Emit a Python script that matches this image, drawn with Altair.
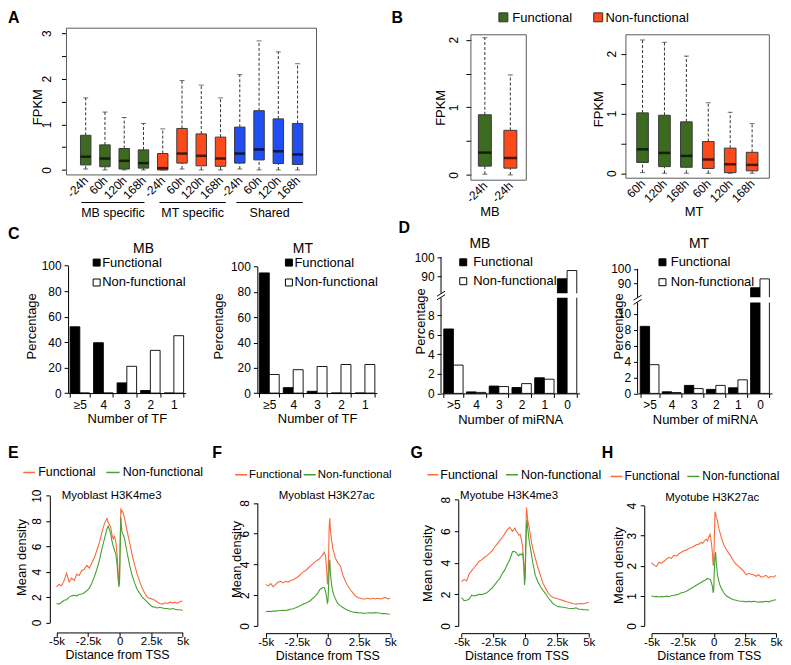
import altair as alt
import pandas as pd

FONT = "Liberation Sans"
GREEN = "#3c6a1f"
ORANGE = "#fc4a1a"
BLUE = "#1f4ff2"
LINE_OR = "#fa6a3c"
LINE_GR = "#47a031"
FRAME = "#5a5a5a"

# ---------------- Panel A (FPKM box plots)
A_GROUPS = ["MB specific", "MT specific", "Shared"]
A_TIMES = ["-24h", "60h", "120h", "168h"]
A_Q1 = [0.11, 0.07, 0.02, 0.04, 0.00, 0.15, 0.09, 0.08, 0.15, 0.22, 0.14, 0.12]
A_MED = [0.29, 0.25, 0.20, 0.15, 0.04, 0.36, 0.31, 0.25, 0.36, 0.45, 0.41, 0.34]
A_Q3 = [0.76, 0.55, 0.47, 0.44, 0.36, 0.91, 0.79, 0.72, 0.94, 1.30, 1.12, 1.02]
A_LO = [0.02, 0.0, 0.0, 0.0, 0.0, 0.02, 0.0, 0.0, 0.02, 0.0, 0.0, 0.0]
A_HI = [1.58, 1.27, 1.15, 1.02, 0.90, 1.96, 1.86, 1.58, 2.09, 2.83, 2.59, 2.33]
GROUP_COLORS = [GREEN, ORANGE, BLUE]

# ---------------- Panel B
B_TYPES = ["Functional", "Non-functional"]
B1_TIMES = ["-24h", "-24h"]
B1_Q1 = [0.13, 0.10]
B1_MED = [0.33, 0.25]
B1_Q3 = [0.89, 0.66]
B1_LO = [0.01, 0.0]
B1_HI = [2.03, 1.48]
B2_TIMES = ["60h", "120h", "168h", "60h", "120h", "168h"]
B2_Q1 = [0.18, 0.11, 0.10, 0.08, 0.01, 0.04]
B2_MED = [0.40, 0.34, 0.29, 0.23, 0.15, 0.14]
B2_Q3 = [1.01, 0.97, 0.86, 0.53, 0.42, 0.35]
B2_LO = [0.01, 0.0, 0.0, 0.0, 0.0, 0.0]
B2_HI = [2.23, 2.19, 1.96, 1.18, 1.02, 0.83]

# ---------------- Panel C (TF)
TF_CATS = ["\u22655", "4", "3", "2", "1"]
C_MB_FUNC = [52, 39.5, 8, 2, 0]
C_MB_NON = [0, 0, 21, 33.5, 45]
C_MT_FUNC = [95, 4.3, 1.4, 0, 0]
C_MT_NON = [14.7, 18.5, 21, 22.6, 22.6]

# ---------------- Panel D (miRNA)
MI_CATS = [">5", "4", "3", "2", "1", "0"]
D_MB_FUNC = [6.6, 0.15, 0.75, 0.6, 1.6, 88.8]
D_MB_NON = [2.9, 0.1, 0.7, 1.0, 1.45, 93.1]
D_MT_FUNC = [8.4, 0.2, 1.0, 0.5, 0.7, 86.8]
D_MT_NON = [3.6, 0.1, 0.6, 1.0, 1.7, 93.0]

# ---------------- Panels E-H (density profiles)
TSS_X = [-5000, -4800, -4600, -4400, -4200, -4000, -3800, -3600, -3400, -3200, -3000,
         -2800, -2600, -2400, -2200, -2000, -1800, -1600, -1400, -1200, -1000, -900,
         -800, -700, -600, -500, -400, -300, -200, -100, -50, 0, 50, 100, 150, 200,
         300, 400, 500, 600, 800, 1000, 1200, 1400, 1600, 1800, 2000, 2200, 2400,
         2600, 2800, 3000, 3200, 3400, 3600, 3800, 4000, 4200, 4400, 4600, 4800, 5000]
E_FUNC = [2.8, 3.0, 2.9, 3.3, 3.9, 3.2, 3.5, 3.3, 3.8, 3.7, 4.1, 4.2, 4.5, 4.3, 4.7, 5.1,
          5.7, 6.3, 7.1, 7.8, 8.2, 7.9, 7.7, 7.5, 6.9, 6.6, 6.8, 6.4, 5.4, 3.8, 3.0, 3.6,
          6.5, 9.0, 8.7, 8.8, 8.6, 8.2, 7.7, 7.2, 6.3, 5.3, 4.5, 3.8, 3.2, 2.7, 2.3, 2.0,
          1.9, 1.85, 1.75, 1.6, 1.5, 1.45, 1.55, 1.5, 1.6, 1.55, 1.6, 1.5, 1.65, 1.7]
E_NON = [1.5, 1.45, 1.6, 1.75, 1.8, 2.0, 2.1, 2.15, 2.1, 2.2, 2.25, 2.35, 2.5, 2.7, 3.1,
         3.6, 4.2, 4.9, 5.8, 6.6, 7.4, 7.6, 7.3, 7.0, 6.4, 6.0, 5.7, 5.4, 4.6, 3.3, 2.8,
         3.2, 6.0, 8.3, 7.5, 7.1, 6.9, 6.6, 6.0, 5.5, 4.5, 3.7, 3.1, 2.6, 2.3, 2.0, 1.8,
         1.6, 1.4, 1.25, 1.2, 1.15, 1.2, 1.15, 1.1, 1.1, 1.05, 1.1, 1.05, 1.0, 1.0, 0.95]
F_FUNC = [2.7, 2.6, 2.75, 2.55, 2.7, 2.85, 2.9, 2.8, 2.9, 2.85, 2.95, 3.0, 3.1, 3.2, 3.35,
          3.5, 3.6, 3.75, 3.9, 4.05, 4.2, 4.25, 4.3, 4.35, 4.45, 4.55, 4.65, 4.8, 4.6, 3.6,
          2.8, 2.7, 4.5, 6.5, 7.0, 6.2, 5.5, 5.0, 4.7, 4.4, 4.1, 3.9, 3.3, 2.9, 2.6, 2.35,
          2.15, 1.95, 1.85, 1.8, 1.75, 1.75, 1.8, 1.75, 1.8, 1.75, 1.8, 1.75, 1.8, 1.85,
          1.75, 1.8]
F_NON = [0.92, 0.95, 0.93, 0.97, 0.96, 0.98, 1.0, 1.02, 1.0, 1.04, 1.08, 1.12, 1.18, 1.25,
         1.32, 1.4, 1.48, 1.56, 1.65, 1.8, 1.95, 2.05, 2.15, 2.3, 2.4, 2.45, 2.5, 2.5, 2.3,
         1.8, 1.5, 1.6, 2.6, 4.0, 4.3, 3.4, 2.6, 2.2, 1.95, 1.75, 1.45, 1.3, 1.2, 1.1, 1.02,
         0.95, 0.9, 0.88, 0.86, 0.85, 0.83, 0.82, 0.84, 0.85, 0.83, 0.86, 0.85, 0.82, 0.8,
         0.8, 0.77, 0.76]
G_FUNC = [2.8, 2.95, 2.85, 3.3, 3.5, 3.7, 3.9, 4.1, 4.2, 4.35, 4.45, 4.6, 4.75, 5.0, 5.2,
          5.4, 5.6, 5.85, 6.1, 6.25, 6.0, 6.1, 6.2, 6.0, 5.9, 5.75, 5.8, 5.5, 5.0, 3.9, 3.1,
          3.3, 5.5, 7.5, 7.2, 6.7, 6.3, 5.8, 5.3, 4.9, 4.3, 3.7, 3.2, 2.7, 2.4, 2.1, 1.9,
          1.8, 1.75, 1.7, 1.65, 1.6, 1.55, 1.5, 1.45, 1.4, 1.38, 1.4, 1.42, 1.4, 1.45, 1.5]
G_NON = [1.8, 1.6, 1.62, 1.7, 1.95, 1.9, 1.95, 2.0, 1.98, 2.05, 2.1, 2.25, 2.4, 2.6, 2.8,
         3.0, 3.3, 3.55, 3.9, 4.2, 4.7, 4.72, 4.7, 4.65, 4.5, 4.45, 4.55, 4.5, 4.6, 3.8, 2.6,
         3.0, 4.8, 6.3, 6.7, 6.2, 5.5, 5.0, 4.5, 4.0, 3.2, 2.8, 2.5, 2.25, 2.05, 1.8, 1.6,
         1.4, 1.3, 1.22, 1.2, 1.18, 1.15, 1.12, 1.1, 1.1, 1.15, 1.05, 1.05, 1.03, 1.02, 1.0]
H_FUNC = [2.1, 2.02, 1.98, 2.12, 2.08, 2.15, 2.22, 2.28, 2.25, 2.35, 2.32, 2.4, 2.45, 2.5,
          2.52, 2.58, 2.6, 2.65, 2.7, 2.72, 2.78, 2.74, 2.8, 2.85, 2.88, 2.82, 2.95, 3.05,
          2.8, 2.4, 2.0, 2.1, 3.0, 3.8, 3.75, 3.6, 3.5, 3.25, 3.1, 2.95, 2.7, 2.55, 2.42,
          2.3, 2.15, 2.05, 1.98, 1.9, 1.82, 1.7, 1.75, 1.72, 1.7, 1.65, 1.7, 1.62, 1.64,
          1.68, 1.6, 1.65, 1.62, 1.68]
H_NON = [1.0, 0.97, 0.98, 0.96, 0.98, 0.97, 0.99, 0.98, 1.0, 1.02, 1.03, 1.06, 1.1, 1.12,
         1.15, 1.2, 1.25, 1.3, 1.35, 1.4, 1.45, 1.48, 1.5, 1.52, 1.55, 1.58, 1.56, 1.55,
         1.45, 1.3, 1.1, 1.2, 1.9, 2.35, 2.45, 2.1, 1.7, 1.5, 1.35, 1.25, 1.1, 1.0, 0.95,
         0.9, 0.87, 0.85, 0.83, 0.82, 0.82, 0.8, 0.82, 0.8, 0.82, 0.8, 0.79, 0.8, 0.8, 0.82,
         0.8, 0.83, 0.85, 0.87]

# global plot area (absolute page pixels)
OX, OY = 40.0, 26.7
W, H = 743, 600
BOTTOM = OY + H
ONE = pd.DataFrame({"a": [0]})


def rx(x):
    return x - OX


def ry(y):
    return y - OY


def T(t, x, y, size=12, align="center", baseline="middle", weight="normal", angle=0):
    return alt.Chart(pd.DataFrame({"t": [t]})).mark_text(
        align=align, baseline=baseline, fontSize=size, fontWeight=weight, angle=angle,
        font=FONT, color="black").encode(x=alt.value(rx(x)), y=alt.value(ry(y)), text="t:N")


def VT(t, x, y, size=13):
    return T(t, x, y, size=size, angle=270)


def S(x1, y1, x2, y2, color="black", width=1.0):
    return alt.Chart(ONE).mark_rule(color=color, strokeWidth=width).encode(
        x=alt.value(rx(x1)), y=alt.value(ry(y1)), x2=alt.value(rx(x2)), y2=alt.value(ry(y2)))


def Q(x, y, side, fill, stroke):
    return alt.Chart(ONE).mark_point(shape="square", filled=True, fill=fill, stroke=stroke,
                                     strokeWidth=1, size=side * side, opacity=1).encode(
        x=alt.value(rx(x)), y=alt.value(ry(y)))


def FR(x1, x2, y1, y2):
    return alt.Chart(ONE).mark_rect(fill="transparent", stroke=FRAME, strokeWidth=1).encode(
        x=alt.value(rx(x1)), x2=alt.value(rx(x2)), y=alt.value(ry(y1)), y2=alt.value(ry(y2)))


def LET(ch, x, y):
    return T(ch, x, y, size=16, align="left", baseline="top", weight="bold")


def box_panel(ids, cols, q1, med, q3, lo, hi, xr, y0px, ytoppx, ytopval, yvals, fr, bw,
              lpad=8):
    df = pd.DataFrame({"id": ids, "col": cols, "q1": q1, "med": med, "q3": q3,
                       "lo": lo, "hi": hi})
    xs = alt.Scale(type="point", domain=ids, range=[rx(xr[0]), rx(xr[1])], padding=0)
    ys = alt.Scale(domain=[0, ytopval], range=[ry(y0px), ry(ytoppx)], zero=False, nice=False)
    ax = fr[0]
    xa = alt.Axis(title=None, orient="bottom", labelExpr="split(datum.label, '|')[1]",
                  labelAngle=-45, labelAlign="right", labelBaseline="middle", ticks=False,
                  domain=False, labelPadding=3, labelFontSize=12, offset=fr[3] - BOTTOM)
    ya = alt.Axis(title=None, orient="left", values=yvals,
                  labelExpr="datum.value % 1 == 0 ? format(datum.value, 'd') : ''",
                  labelAngle=-90, labelAlign="center", labelBaseline="bottom",
                  domain=False, tickSize=5, labelPadding=lpad, labelFontSize=12,
                  offset=OX - ax, grid=False)
    X = alt.X("id:N", scale=xs, axis=xa)

    def Y(f):
        return alt.Y(f + ":Q", scale=ys, axis=ya)

    base = alt.Chart(df)
    return alt.layer(
        base.mark_rule(strokeDash=[3, 2], color="#333333", strokeWidth=1).encode(
            x=X, y=Y("q3"), y2="hi:Q"),
        base.mark_rule(strokeDash=[3, 2], color="#333333", strokeWidth=1).encode(
            x=X, y=Y("lo"), y2="q1:Q"),
        base.mark_tick(size=5, thickness=1, color="#333333").encode(x=X, y=Y("hi")),
        base.mark_tick(size=5, thickness=1, color="#333333").encode(x=X, y=Y("lo")),
        base.mark_bar(size=bw, stroke="#3a3a3a", strokeWidth=1).encode(
            x=X, y=Y("q1"), y2="q3:Q", fill=alt.Fill("col:N", scale=None)),
        base.mark_tick(size=bw, thickness=2.5, color="black").encode(x=X, y=Y("med")),
        FR(*fr),
    )


def bar_panel(cats, func, non, xr, po, pi, ydom, yrng, yvals, ax, xtitle, broken=False):
    rows = []
    for c, a, b in zip(cats, func, non):
        rows.append({"cat": c, "status": "Functional", "v": a})
        rows.append({"cat": c, "status": "Non-functional", "v": b})
    df = pd.DataFrame(rows)
    xs = alt.Scale(domain=cats, range=[rx(xr[0]), rx(xr[1])], paddingInner=pi,
                   paddingOuter=po)
    ys = alt.Scale(domain=ydom, range=[ry(v) for v in yrng], zero=False, nice=False)
    xa = alt.Axis(title=xtitle, orient="bottom", labelAngle=0, tickBand="extent", tickSize=4,
                  labelPadding=2, labelFontSize=12, titleFontSize=13, titlePadding=3,
                  grid=False, offset=yrng[0] - BOTTOM)
    ya = alt.Axis(title=None, orient="left", values=yvals, labelAngle=0, tickSize=4,
                  labelPadding=3, labelFontSize=12, domain=not broken, offset=OX - ax,
                  grid=False)
    X = alt.X("cat:N", scale=xs, axis=xa)
    bars = alt.Chart(df).mark_bar(stroke="black", strokeWidth=0.9).encode(
        x=X,
        xOffset=alt.XOffset("status:N", scale=alt.Scale(domain=B_TYPES, paddingInner=0,
                                                        paddingOuter=0)),
        y=alt.Y("v:Q", scale=ys, axis=ya), y2=alt.datum(0),
        fill=alt.Fill("status:N", scale=alt.Scale(domain=B_TYPES, range=["black", "white"]),
                      legend=None))
    layers = [bars]
    if broken:
        gap = pd.DataFrame({"a": [ydom[1]], "b": [ydom[2]]})
        layers.append(alt.Chart(gap).mark_rect(fill="white").encode(
            x=alt.value(rx(xr[0]) + 1), x2=alt.value(rx(xr[1]) + 2),
            y=alt.Y("a:Q", scale=ys, axis=ya), y2="b:Q"))
        segs = pd.DataFrame({"s": [ydom[0], ydom[2]], "e": [ydom[1], ydom[3]]})
        layers.append(alt.Chart(segs).mark_rule(color="black", strokeWidth=1).encode(
            x=alt.value(rx(ax)), y=alt.Y("s:Q", scale=ys, axis=ya), y2="e:Q"))
        lo_px, hi_px = yrng[1], yrng[2]
        layers.append(S(ax - 4, lo_px + 2, ax + 4, lo_px - 3))
        layers.append(S(ax - 4, hi_px + 3, ax + 4, hi_px - 2))
    return alt.layer(*layers)


def line_panel(f, n, xr, ydom, yrng, yvals, ax, axis_y):
    df = pd.DataFrame({"x": TSS_X * 2, "v": list(f) + list(n),
                       "s": ["Functional"] * len(TSS_X) + ["Non-functional"] * len(TSS_X)})
    xs = alt.Scale(domain=[-5000, 5000], range=[rx(xr[0]), rx(xr[1])], zero=False,
                   nice=False)
    ys = alt.Scale(domain=ydom, range=[ry(yrng[0]), ry(yrng[1])], zero=False, nice=False)
    xa = alt.Axis(title=None, orient="bottom", values=[-5000, -2500, 0, 2500, 5000],
                  labelExpr="datum.value == 0 ? '0' : (datum.value / 1000) + 'k'",
                  tickSize=4, labelPadding=-1, labelFontSize=11.5, labelFlush=False,
                  labelOverlap=False, offset=axis_y - BOTTOM, grid=False)
    ya = alt.Axis(title=None, orient="left", values=yvals, labelAngle=-90,
                  labelAlign="center", labelBaseline="bottom", tickSize=4, labelPadding=2,
                  labelFontSize=12, labelFlush=False, offset=OX - ax, grid=False)
    return alt.Chart(df).mark_line(strokeWidth=1.1).encode(
        x=alt.X("x:Q", scale=xs, axis=xa), y=alt.Y("v:Q", scale=ys, axis=ya),
        color=alt.Color("s:N", scale=alt.Scale(domain=B_TYPES, range=[LINE_OR, LINE_GR]),
                        legend=None),
        order=alt.Order("x:Q"))


def bar_legend(title, tx, ty, sq_x, txt_x, y1, y2):
    return [T(title, tx, ty, size=14),
            Q(sq_x, y1, 7, "black", "black"),
            T("Functional", txt_x, y1, size=13, align="left"),
            Q(sq_x, y2, 7, "white", "black"),
            T("Non-functional", txt_x, y2, size=13, align="left")]


def line_legend(y, o1, o2, t1, g1, g2, t2, title, tx, ty, fs=12.5):
    return [S(o1, y, o2, y, color=LINE_OR, width=1.5),
            T("Functional", t1, y, size=fs, align="left"),
            S(g1, y, g2, y, color=LINE_GR, width=1.5),
            T("Non-functional", t2, y, size=fs, align="left"),
            T(title, tx, ty, size=11.5)]


panels = []
annos = []

# ================= Row 1: A, B =================
A_ids = [f"{i}|{t}" for i, t in enumerate(A_TIMES * 3)]
A_cols = [GROUP_COLORS[i // 4] for i in range(12)]
panels.append(box_panel(A_ids, A_cols, A_Q1, A_MED, A_Q3, A_LO, A_HI, [86, 298.7], 169,
                        31.7, 3, [0, 0.5, 1, 1.5, 2, 2.5, 3], [66.7, 317.7, 26.7, 174],
                        10.5))
annos += [LET("A", 8, 8), VT("FPKM", 38, 106)]
for g, (x1, x2) in zip(A_GROUPS, [(81.7, 145), (160, 226.7), (237.3, 304)]):
    annos.append(S(x1, 201.7, x2, 201.7))
    annos.append(T(g, (x1 + x2) / 2, 212, size=12.5))

panels.append(box_panel(["0|-24h", "1|-24h"], [GREEN, ORANGE], B1_Q1, B1_MED, B1_Q3, B1_LO,
                        B1_HI, [486.7, 512.3], 174, 38.3, 2, [0, 0.5, 1, 1.5, 2],
                        [472.7, 528.3, 33.3, 179.3], 13, lpad=5))
B2_ids = [f"{i}|{t}" for i, t in enumerate(B2_TIMES)]
panels.append(box_panel(B2_ids, [GREEN] * 3 + [ORANGE] * 3, B2_Q1, B2_MED, B2_Q3, B2_LO,
                        B2_HI, [645, 755], 172.3, 52.3, 2, [0, 0.5, 1, 1.5, 2],
                        [628.3, 772.3, 33.3, 177.3], 11.7, lpad=2))
annos += [LET("B", 393, 8), VT("FPKM", 443, 106.7), VT("FPKM", 601.7, 108),
          T("MB", 491.7, 211, size=13), T("MT", 696.7, 211, size=13),
          Q(505.3, 15.8, 9, GREEN, "#333333"),
          T("Functional", 514.3, 16, size=13, align="left"),
          Q(600.5, 15.8, 9, ORANGE, "#333333"),
          T("Non-functional", 607.7, 16, size=13, align="left")]

# ================= Row 2: C, D =================
panels.append(bar_panel(TF_CATS, C_MB_FUNC, C_MB_NON, [68.3, 186.3], 0.085, 0.17, [0, 100],
                        [393, 265], [0, 20, 40, 60, 80, 100], 68.3, "Number of TF"))
panels.append(bar_panel(TF_CATS, C_MT_FUNC, C_MT_NON, [258.3, 378.3], 0.085, 0.17, [0, 100],
                        [393, 266], [0, 20, 40, 60, 80, 100], 258.3, "Number of TF"))
panels.append(bar_panel(MI_CATS, D_MB_FUNC, D_MB_NON, [442.7, 581.7], 0.12, 0.15,
                        [0, 9.8, 81.3, 100], [393.3, 297.3, 292.7, 256.7],
                        [0, 2, 4, 6, 8, 90, 100], 442.7, "Number of miRNA", broken=True))
panels.append(bar_panel(MI_CATS, D_MT_FUNC, D_MT_NON, [640, 775], 0.12, 0.15,
                        [0, 11.4, 80.2, 100], [393.3, 302, 296.7, 268.3],
                        [0, 2, 4, 6, 8, 10, 90, 100], 640, "Number of miRNA", broken=True))
annos += [LET("C", 8, 225), LET("D", 400, 219),
          VT("Percentage", 31.7, 326), VT("Percentage", 220, 326),
          VT("Percentage", 423, 321), VT("Percentage", 621.7, 326)]
annos += bar_legend("MB", 144, 248, 97, 102.5, 262, 282)
annos += bar_legend("MT", 304, 248, 290, 295.5, 262, 282)
annos += bar_legend("MB", 481.7, 243.5, 465, 475, 261.7, 280.7)
annos += bar_legend("MT", 701.7, 243.3, 665, 673.3, 261.7, 281.7)

# ================= Row 3: E-H =================
panels.append(line_panel(E_FUNC, E_NON, [56.7, 183.3], [0, 10], [623.3, 496],
                         [0, 2, 4, 6, 8, 10], 50, 633.3))
panels.append(line_panel(F_FUNC, F_NON, [266.7, 391.7], [0, 8], [626.7, 503.3],
                         [0, 2, 4, 6, 8], 258.3, 634))
panels.append(line_panel(G_FUNC, G_NON, [463.3, 591], [0, 8], [626.7, 500],
                         [0, 2, 4, 6, 8], 460, 634))
panels.append(line_panel(H_FUNC, H_NON, [654, 779], [0, 4], [626.7, 506],
                         [0, 1, 2, 3, 4], 646.7, 634))
annos += [LET("E", 8, 445), LET("F", 213, 445), LET("G", 412, 445), LET("H", 604, 445),
          VT("Mean density", 22.5, 558), VT("Mean density", 238, 560),
          VT("Mean density", 430, 564), VT("Mean density", 621.7, 566),
          T("Distance from TSS", 118, 656, size=12.5),
          T("Distance from TSS", 329, 656.5, size=12.5),
          T("Distance from TSS", 519, 656.5, size=12.5),
          T("Distance from TSS", 712, 656.5, size=12.5)]
annos += line_legend(472.7, 23.3, 35, 38.3, 106.7, 120, 123.3, "Myoblast H3K4me3", 112, 496)
annos += line_legend(475, 236, 248, 250, 305, 317, 319, "Myoblast H3K27ac", 328, 496,
                     fs=11.5)
annos += line_legend(475, 429, 440, 442, 508, 520, 523, "Myotube H3K4me3", 511, 496)
annos += line_legend(476.7, 613, 624.7, 627, 690, 702, 705, "Myotube H3K27ac", 715, 498,
                     fs=12)

chart = alt.layer(*(panels + annos)).resolve_scale(
    x="independent", y="independent", fill="independent", color="independent",
    xOffset="independent"
).resolve_axis(x="independent", y="independent").properties(
    width=W, height=H, padding=0
).configure_view(strokeWidth=0).configure_axis(
    labelFont=FONT, titleFont=FONT, labelColor="black", titleColor="black",
    domainColor="black", tickColor="black", titleFontWeight="normal", grid=False)

chart.save("out.html", embed_options={"renderer": "svg", "actions": False})
